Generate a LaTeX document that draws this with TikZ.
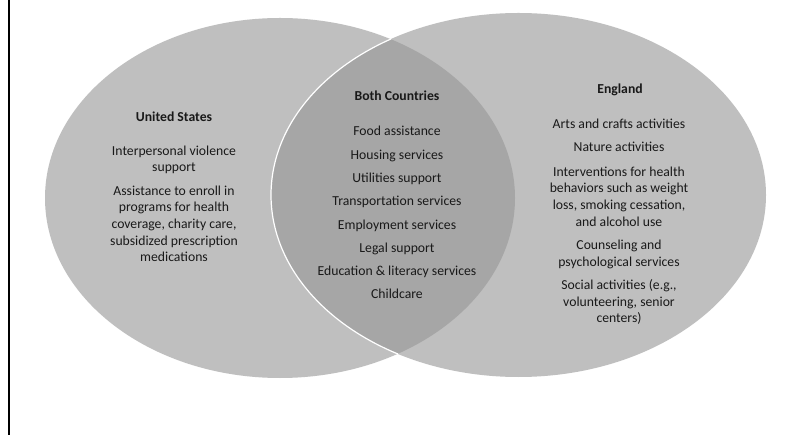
\documentclass[tikz,border=0pt]{standalone}
\usepackage{fontspec}
\setmainfont{Carlito}
\begin{document}
\begin{tikzpicture}[x=1pt,y=-1pt,
  txt/.style={font=\fontsize{13.7}{16.7}\selectfont,align=center,anchor=base,inner sep=0pt,text=black!90},
  ttl/.style={font=\fontsize{13.7}{16.7}\selectfont\bfseries,anchor=base,inner sep=0pt,text=black!90}]
\definecolor{outerGray}{HTML}{BFBFBF}
\definecolor{innerGray}{HTML}{A6A6A6}
\def\leftset{(280,198) ellipse [x radius=235pt, y radius=180pt]}
\def\rightset{(518.5,195) ellipse [x radius=247.5pt, y radius=182pt]}
\useasboundingbox (0,0) rectangle (797,435);
\fill[white] (0,0) rectangle (797,435);
% the two sets
\fill[outerGray] \leftset;
\fill[outerGray] \rightset;
% their overlap, edged in white
\begin{scope}
  \clip \leftset;
  \fill[innerGray] \rightset;
  \draw[white,line width=1.2pt] \rightset;
\end{scope}
% frame line at the left
\draw[black,line width=1.6pt] (9,0) -- (9,435);
% United States (lists are anchored at the baseline of their last line)
\node[ttl] (usT) at (174,122) {United States};
\node[txt] (usL) at (174,262) {Interpersonal violence\\support\\[6.6pt]Assistance to enroll in\\programs for health\\coverage, charity care,\\subsidized prescription\\medications};
% Both Countries
\node[ttl] (bcT) at (397,101) {Both Countries};
\node[txt] (bcL) at (397,299) {Food assistance\\[6.6pt]Housing services\\[6.6pt]Utilities support\\[6.6pt]Transportation services\\[6.6pt]Employment services\\[6.6pt]Legal support\\[6.6pt]Education \& literacy services\\[6.6pt]Childcare};
% England
\node[ttl] (enT) at (620,94) {England};
\node[txt] (enL) at (619,323) {Arts and crafts activities\\[6.6pt]Nature activities\\[7.8pt]Interventions for health\\behaviors such as weight\\loss, smoking cessation,\\and alcohol use\\[6.6pt]Counseling and\\psychological services\\[6.6pt]Social activities (e.g.,\\volunteering, senior\\centers)};
\end{tikzpicture}
\end{document}
